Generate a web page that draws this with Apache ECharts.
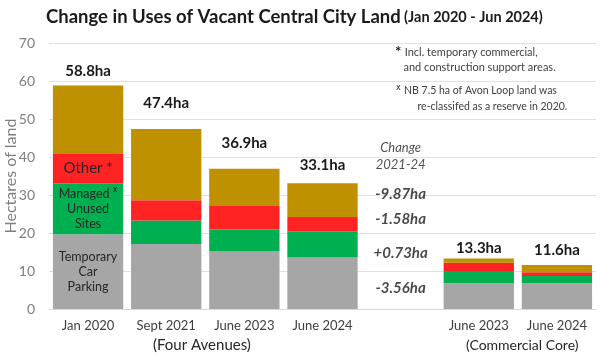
<!DOCTYPE html>
<html><head><meta charset="utf-8">
<script src="https://cdn.jsdelivr.net/npm/echarts@6/dist/echarts.min.js"></script>
<style>html,body{margin:0;padding:0;background:#fff}#c{width:600px;height:356px}</style>
</head><body><div id="c"></div>
<script>
// ---- data ----
var categories = ['Jan 2020', 'Sept 2021', 'June 2023', 'June 2024', '', 'June 2023', 'June 2024'];
var carParking = [19.7, 17.1, 15.1, 13.54, null, 6.8, 6.8];
var managedSites = [13.4, 6.2, 5.8, 6.93, null, 3.2, 1.9];
var otherUses = [7.9, 5.3, 6.2, 3.72, null, 2.2, 1.0];
var unmanagedLand = [17.8, 18.8, 9.8, 8.93, null, 1.1, 1.9];
var totals = ['58.8ha', '47.4ha', '36.9ha', '33.1ha', '', '13.3ha', '11.6ha'];
var changeLabels = ['-9.87ha', '-1.58ha', '+0.73ha', '-3.56ha'];
var changeLabelY = [30.3, 23.7, 14.7, 5.5];
var yTicks = [0, 10, 20, 30, 40, 50, 60, 70];

// ---- styles (not data) ----
var totalGap = [7, 18, 18, 10, 0, 3, 7];
var FONT = 'Lato';

function withLabel(arr, text, style) {
  return arr.map(function (v, i) {
    if (i === 0) return { value: v, label: Object.assign({ show: true, formatter: text, position: 'inside' }, style) };
    return v;
  });
}
var supRich = { sup: { fontSize: 8, fontFamily: 'DejaVu Sans', color: '#262626', padding: [0, 0, 7, 0] } };

var chart = echarts.init(document.getElementById('c'), null, { renderer: 'canvas' });
var option = {
  animation: false,
  textStyle: { fontFamily: FONT },
  grid: { left: 49, right: 4, top: 43, bottom: 47, containLabel: false, outerBoundsMode: 'none' },
  xAxis: {
    type: 'category', data: categories,
    axisLine: { lineStyle: { color: '#d9d9d9' } },
    axisTick: { show: false },
    axisLabel: { color: '#404040', fontSize: 13, margin: 10, interval: 0, fontFamily: FONT }
  },
  yAxis: {
    type: 'value', min: yTicks[0], max: yTicks[yTicks.length - 1], interval: 10,
    name: 'Hectares of land', nameLocation: 'middle', nameGap: 30, nameMoveOverlap: false,
    nameTextStyle: { color: '#7f7f7f', fontSize: 16, fontFamily: FONT },
    axisLabel: { color: '#7f7f7f', fontSize: 14, margin: 14, fontFamily: FONT },
    splitLine: { lineStyle: { color: '#e0e0e0' } },
    axisLine: { show: false }, axisTick: { show: false }
  },
  series: [
    { type: 'bar', stack: 't', barCategoryGap: '10%', itemStyle: { color: '#a6a6a6' },
      data: withLabel(carParking, 'Temporary\nCar\nParking', { color: '#262626', fontSize: 12.5, lineHeight: 15, fontFamily: FONT }) },
    { type: 'bar', stack: 't', itemStyle: { color: '#00b050' },
      data: withLabel(managedSites, 'Managed {sup|x}\nUnused\nSites', { color: '#262626', fontSize: 12.5, lineHeight: 15, fontFamily: FONT, rich: supRich }) },
    { type: 'bar', stack: 't', itemStyle: { color: '#ff2323' },
      data: withLabel(otherUses, 'Other *', { color: '#262626', fontSize: 15, fontFamily: FONT }) },
    { type: 'bar', stack: 't', itemStyle: { color: '#bf9000' },
      data: unmanagedLand.map(function (v, i) {
        return { value: v, label: { show: true, position: 'top', distance: totalGap[i], formatter: totals[i],
          color: '#1a1a1a', fontSize: 15, fontWeight: 'bold', fontFamily: FONT } };
      }) },
    { type: 'scatter', symbol: 'circle', symbolSize: 1, itemStyle: { color: 'rgba(0,0,0,0)' }, silent: true, z: 10,
      data: changeLabels.map(function (t, i) {
        return { value: [4, changeLabelY[i]], label: { show: true, position: 'inside', formatter: t,
          color: '#1a1a1a', fontSize: 15, fontWeight: 'bold', fontStyle: 'italic', fontFamily: FONT } };
      }).concat([{ value: [4, 40.3], label: { show: true, position: 'inside', formatter: 'Change\n2021-24',
          color: '#262626', fontSize: 13, lineHeight: 17, fontStyle: 'italic', fontFamily: FONT } }])
    }
  ],
  graphic: [
    { type: 'text', left: 46, top: 8, style: { text: '{b|Change in Uses of Vacant Central City Land} {s|(Jan 2020 - Jun 2024)}',
        rich: { b: { fontSize: 18.5, fontWeight: 'bold', fill: '#1a1a1a', fontFamily: FONT },
                s: { fontSize: 14.5, fontWeight: 'bold', fill: '#1a1a1a', fontFamily: FONT } } } },
    { type: 'text', left: 395, top: 45, style: { text: '{a|*} {t|Incl. temporary commercial,}\n{t|   and construction support areas.}',
        rich: { a: { fontSize: 15, fontWeight: 'bold', fill: '#262626', fontFamily: FONT, lineHeight: 15 },
                t: { fontSize: 11, fill: '#404040', fontFamily: FONT, lineHeight: 15 } } } },
    { type: 'text', left: 396, top: 84, style: { text: '{a|x} {t|NB 7.5 ha of Avon Loop land was}\n{t|        re-classifed as a reserve in 2020.}',
        rich: { a: { fontSize: 8, fill: '#262626', fontFamily: 'DejaVu Sans', lineHeight: 16, padding: [0, 0, 6, 0] },
                t: { fontSize: 10.5, fill: '#404040', fontFamily: FONT, lineHeight: 16 } } } },
    { type: 'text', left: 153, top: 338, style: { text: '(Four Avenues)', fontSize: 15, fill: '#262626', fontFamily: FONT } },
    { type: 'text', left: 466, top: 338, style: { text: '(Commercial Core)', fontSize: 14, fill: '#262626', fontFamily: FONT } }
  ]
};
chart.setOption(option);
</script></body></html>
